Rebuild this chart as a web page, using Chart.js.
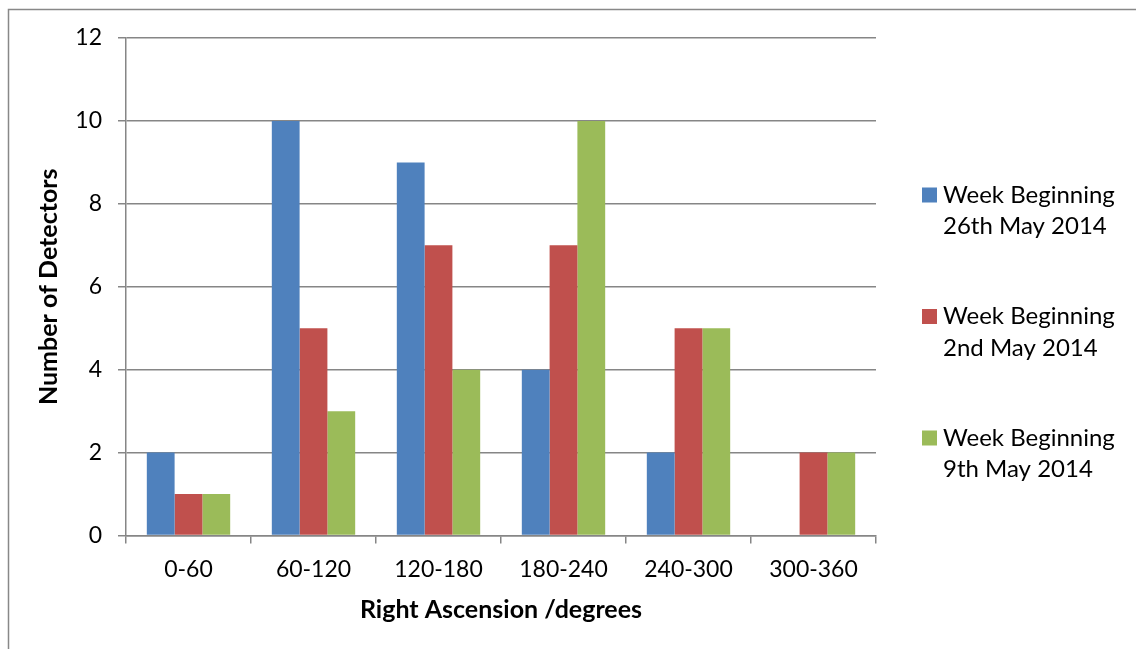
<!DOCTYPE html>
<html>
<head>
<meta charset="utf-8">
<script src="https://cdn.jsdelivr.net/npm/chart.js@4/dist/chart.umd.min.js"></script>
<style>
  html, body { margin: 0; padding: 0; background: #ffffff; }
  #wrap { width: 1136px; height: 649px; position: relative; }
</style>
</head>
<body>
<div id="wrap"><canvas id="c" width="1136" height="649"></canvas></div>
<script>
const categories = ['0-60', '60-120', '120-180', '180-240', '240-300', '300-360'];
const seriesNames = [
  ['Week Beginning', '26th May 2014'],
  ['Week Beginning', '2nd May 2014'],
  ['Week Beginning', '9th May 2014']
];
const week26May = [2, 10, 9, 4, 2, 0];
const week2May = [1, 5, 7, 7, 5, 2];
const week9May = [1, 3, 4, 10, 5, 2];
const yTicks = [0, 2, 4, 6, 8, 10, 12];

const FONT = 'Lato, "Open Sans", sans-serif';
const GRID = '#868686';
const colors = ['#4F81BD', '#C0504D', '#9BBB59'];

// Outer frame of the chart object
const framePlugin = {
  id: 'frame',
  beforeDraw(chart) {
    const ctx = chart.ctx;
    ctx.save();
    ctx.fillStyle = '#ffffff';
    ctx.fillRect(0, 0, chart.width, chart.height);
    ctx.strokeStyle = '#888888';
    ctx.lineWidth = 1.5;
    ctx.beginPath();
    ctx.moveTo(8.5, chart.height + 5);
    ctx.lineTo(8.5, 9.5);
    ctx.lineTo(chart.width + 5, 9.5);
    ctx.stroke();
    ctx.restore();
  }
};

// Legend on the right with two-line labels
const sideLegend = {
  id: 'sideLegend',
  afterDraw(chart) {
    const ctx = chart.ctx;
    ctx.save();
    ctx.font = '24px ' + FONT;
    ctx.textBaseline = 'middle';
    ctx.textAlign = 'left';
    chart.data.datasets.forEach((ds, i) => {
      const cy = 195 + i * 121.5;
      ctx.fillStyle = ds.backgroundColor;
      ctx.fillRect(922, cy - 7.5, 15, 15);
      ctx.fillStyle = '#000000';
      ds.labelLines.forEach((line, j) => {
        ctx.fillText(line, 943, cy + j * 31.5);
      });
    });
    ctx.restore();
  }
};

new Chart(document.getElementById('c'), {
  type: 'bar',
  data: {
    labels: categories,
    datasets: [
      { label: seriesNames[0].join(' '), labelLines: seriesNames[0], data: week26May, backgroundColor: colors[0] },
      { label: seriesNames[1].join(' '), labelLines: seriesNames[1], data: week2May, backgroundColor: colors[1] },
      { label: seriesNames[2].join(' '), labelLines: seriesNames[2], data: week9May, backgroundColor: colors[2] }
    ]
  },
  options: {
    responsive: false,
    animation: false,
    devicePixelRatio: 1,
    layout: { padding: { left: 0, top: 38, right: 260, bottom: 0 } },
    datasets: { bar: { categoryPercentage: 0.667, barPercentage: 1.0, borderWidth: 0 } },
    plugins: {
      legend: { display: false },
      tooltip: { enabled: false },
      title: { display: false }
    },
    scales: {
      x: {
        offset: true,
        grid: {
          offset: true,
          drawOnChartArea: false,
          drawTicks: true,
          tickLength: 8,
          color: GRID,
          lineWidth: 1.5
        },
        border: { display: true, color: GRID, width: 1.5 },
        ticks: {
          color: '#000000',
          font: { family: FONT, size: 23 },
          padding: 12,
          maxRotation: 0
        },
        title: {
          display: true,
          text: 'Right Ascension /degrees',
          color: '#000000',
          font: { family: FONT, size: 25, weight: 'bold' },
          padding: { top: 10, bottom: 24 }
        },
        afterFit(scale) { scale.height = 113.5; }
      },
      y: {
        min: 0,
        max: 12,
        afterBuildTicks(scale) { scale.ticks = yTicks.map(v => ({ value: v })); },
        grid: {
          color: GRID,
          lineWidth: 1.5,
          drawTicks: true,
          tickLength: 8
        },
        border: { display: true, color: GRID, width: 1.5 },
        ticks: {
          color: '#000000',
          font: { family: FONT, size: 23 },
          padding: 16
        },
        title: {
          display: true,
          text: 'Number of Detectors',
          color: '#000000',
          font: { family: FONT, size: 25, weight: 'bold' },
          padding: { top: 34, bottom: 0 }
        },
        afterFit(scale) { scale.width = 126; }
      }
    }
  },
  plugins: [framePlugin, sideLegend]
});
</script>
</body>
</html>
